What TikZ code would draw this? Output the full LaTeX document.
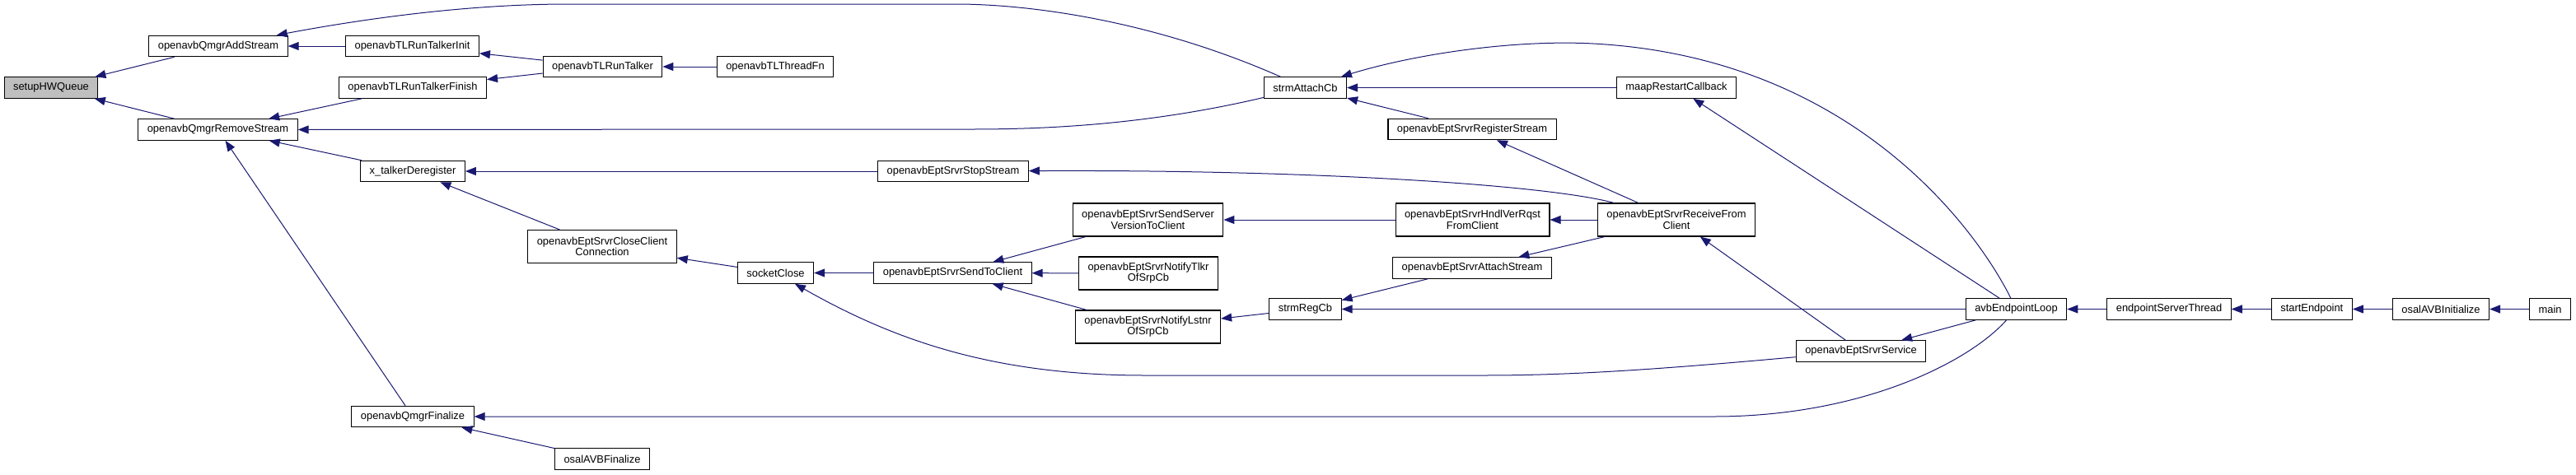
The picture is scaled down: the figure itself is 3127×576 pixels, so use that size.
\documentclass[tikz,border=0pt]{standalone}
\usepackage{fontspec}
\setsansfont{Liberation Sans}
\usepackage{xcolor}
\definecolor{cgedge}{HTML}{191970}
\definecolor{cgroot}{HTML}{BFBFBF}
\usepackage{tikz}
\usetikzlibrary{arrows.meta,positioning}
\tikzset{
  cgbox/.style={draw=black,line width=1.1pt,fill=white,inner xsep=11pt,inner ysep=2pt,align=center,font=\sffamily\fontsize{12.9}{13.3}\selectfont,minimum height=25.5pt},
  cgtwo/.style={cgbox,minimum height=40pt},
  cghead/.style={cgbox,fill=cgroot},
  cgflow/.style={-{Triangle[length=13pt,width=10pt]},draw=cgedge,line width=1pt},
}

\begin{document}
\begin{tikzpicture}[x=1pt,y=-1pt,node distance=48pt]
\useasboundingbox (0,0) rectangle (3127,576);

% callees on the left
\node[cghead] (hw) at (62,106.5){setupHWQueue};
\node[cgbox] (add) at (265,56){openavbQmgrAddStream};
\node[cgbox] (rem) at (264.5,157.5){openavbQmgrRemoveStream};
\node[cgbox] (tinit) at (500.5,56){openavbTLRunTalkerInit};
\node[cgbox] (tfin) at (501,106.5){openavbTLRunTalkerFinish};
\node[cgbox] (xdereg) at (501,208){x\_talkerDeregister};
\node[cgbox] (qfin) at (501,506){openavbQmgrFinalize};
\node[cgbox] (trun) at (731.5,81){openavbTLRunTalker};
\node[cgtwo] (closecl) at (731,299.5){openavbEptSrvrCloseClient\\Connection};
\node[cgbox] (osfin) at (731,557.5){osalAVBFinalize};
\node[cgbox] (tfn) at (941,81){openavbTLThreadFn};
\node[cgbox] (sock) at (941.5,331.5){socketClose};

% endpoint server
\node[cgbox] (stop) at (1157,208){openavbEptSrvrStopStream};
\node[cgbox] (sendcl) at (1156.5,331.5){openavbEptSrvrSendToClient};
\node[cgtwo] (sendver) at (1393.5,267){openavbEptSrvrSendServer\\VersionToClient};
\node[cgtwo] (ntlkr) at (1394,332){openavbEptSrvrNotifyTlkr\\OfSrpCb};
\node[cgtwo] (nlstnr) at (1393.5,397){openavbEptSrvrNotifyLstnr\\OfSrpCb};
\node[cgbox] (attcb) at (1584.5,106.5){strmAttachCb};
\node[cgbox] (regcb) at (1584.5,375.5){strmRegCb};
\node[cgbox] (regstr) at (1787,157){openavbEptSrvrRegisterStream};
\node[cgtwo] (hndl) at (1787.5,267){openavbEptSrvrHndlVerRqst\\FromClient};
\node[cgbox] (attstr) at (1787,325.5){openavbEptSrvrAttachStream};
\node[cgbox] (maap) at (2035,106.5){maapRestartCallback};
\node[cgtwo] (recv) at (2035,267){openavbEptSrvrReceiveFrom\\Client};
\node[cgbox] (svc) at (2259,426.5){openavbEptSrvrService};

% main loop chain
\node[cgbox] (loop) at (2447.5,375.5){avbEndpointLoop};
\node[cgbox,right=of loop] (est){endpointServerThread};
\node[cgbox,right=of est] (sep){startEndpoint};
\node[cgbox,right=of sep] (osinit){osalAVBInitialize};
\node[cgbox,right=of osinit] (main){main};

\draw[cgflow](add)--(hw);\draw[cgflow](rem)--(hw);
\draw[cgflow](tinit)--(add);\draw[cgflow](trun)--(tinit);\draw[cgflow](trun)--(tfin);\draw[cgflow](tfn)--(trun);
\draw[cgflow](tfin)--(rem);\draw[cgflow](xdereg)--(rem);\draw[cgflow](qfin)--(rem);
\draw[cgflow](stop)--(xdereg);\draw[cgflow](closecl)--(xdereg);
\draw[cgflow](sock)--(closecl);\draw[cgflow](sendcl)--(sock);
\draw[cgflow](sendver)--(sendcl);\draw[cgflow](ntlkr)--(sendcl);\draw[cgflow](nlstnr)--(sendcl);
\draw[cgflow](regcb)--(nlstnr);\draw[cgflow](hndl)--(sendver);
\draw[cgflow](recv)--(hndl);\draw[cgflow](recv)--(regstr);\draw[cgflow](recv)--(attstr);
\draw[cgflow](regstr)--(attcb);\draw[cgflow](maap)--(attcb);\draw[cgflow](attstr)--(regcb);
\draw[cgflow](svc)--(recv);\draw[cgflow](loop)--(svc);\draw[cgflow](loop)--(maap);\draw[cgflow](loop)--(regcb);
\draw[cgflow](osfin)--(qfin);
\draw[cgflow](est)--(loop);\draw[cgflow](sep)--(est);\draw[cgflow](osinit)--(sep);\draw[cgflow](main)--(osinit);

% long curved calls
\draw[cgflow](attcb) .. controls (1400,25) and (1250,5) .. (1160,5) -- (690,5) .. controls (560,5) and (430,25) .. (add);
\draw[cgflow](attcb) .. controls (1400,150) and (1280,157) .. (1180,157) -- (rem);
\draw[cgflow](recv) .. controls (1880,225) and (1600,206) .. (stop);
\draw[cgflow](svc) .. controls (2000,450) and (1900,456) .. (1800,456) -- (1390,456) .. controls (1200,456) and (1080,410) .. (sock);
\draw[cgflow](loop) .. controls (2390,440) and (2260,506) .. (2080,506) -- (qfin);
\draw[cgflow](loop) .. controls (2400,280) and (2250,70) .. (1934,53) .. controls (1840,48) and (1720,65) .. (attcb);
\end{tikzpicture}
\end{document}
